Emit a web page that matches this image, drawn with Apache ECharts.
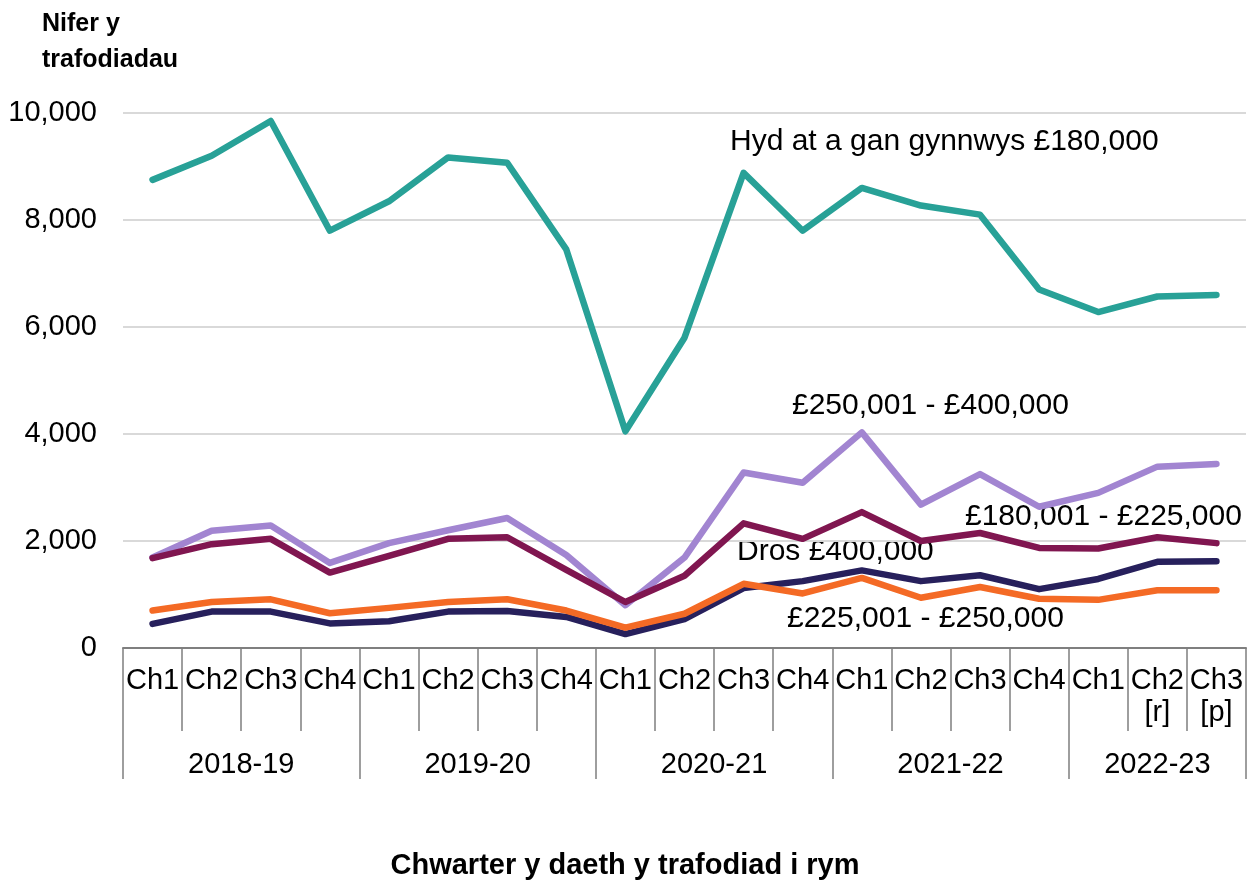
<!DOCTYPE html>
<html>
<head>
<meta charset="utf-8">
<title>Nifer y trafodiadau</title>
<script src="https://cdn.jsdelivr.net/npm/echarts@6/dist/echarts.min.js"></script>
<style>
  html, body { margin: 0; padding: 0; background: #fff; }
  #chart { width: 1250px; height: 882px; }
</style>
</head>
<body>
<div id="chart"></div>
<script>
// chwarteri (categories)
var quarters = ['Ch1','Ch2','Ch3','Ch4','Ch1','Ch2','Ch3','Ch4','Ch1','Ch2','Ch3','Ch4',
                'Ch1','Ch2','Ch3','Ch4','Ch1','Ch2\n[r]','Ch3\n[p]'];
var years = ['2018-19','2019-20','2020-21','2021-22','2022-23'];
var yearStart = [0, 4, 8, 12, 16, 19];   // where each year starts (quarter index)

// values
var upTo180k   = [8750, 9200, 9850, 7800, 8350, 9170, 9070, 7450, 4050, 5800, 8880, 7800, 8600, 8270, 8100, 6700, 6280, 6570, 6600];
var from250to400 = [1690, 2190, 2290, 1590, 1960, 2200, 2430, 1740, 800, 1690, 3280, 3090, 4030, 2680, 3250, 2640, 2900, 3390, 3440];
var from180to225 = [1680, 1940, 2040, 1410, 1720, 2040, 2070, 1460, 860, 1350, 2330, 2040, 2540, 2000, 2150, 1870, 1860, 2070, 1960];
var over400k   = [450, 680, 680, 460, 500, 680, 690, 580, 260, 540, 1120, 1250, 1450, 1250, 1360, 1100, 1290, 1610, 1620];
var from225to250 = [700, 860, 910, 650, 750, 860, 910, 700, 380, 640, 1200, 1020, 1310, 940, 1140, 920, 900, 1080, 1080];

var FONT = "'Liberation Sans', Arial, sans-serif";

var chart = echarts.init(document.getElementById('chart'));

function line(name, data, color) {
  return {
    name: name,
    type: 'line',
    xAxisIndex: 0,
    data: data,
    symbol: 'none',
    lineStyle: { width: 6.5, color: color, cap: 'round', join: 'round' },
    itemStyle: { color: color },
    animation: false
  };
}

// yearly label centres on the value axis underneath
var yearMid = [];
for (var i = 0; i < years.length; i++) {
  yearMid.push((yearStart[i] + yearStart[i + 1]) / 2);
}

var option = {
  backgroundColor: '#fff',
  textStyle: { fontFamily: FONT },
  title: [
    {
      text: 'Nifer y\ntrafodiadau',
      left: 37, top: 1,
      textStyle: { fontFamily: FONT, fontSize: 25, fontWeight: 'bold', color: '#000', lineHeight: 36 }
    },
    {
      text: 'Chwarter y daeth y trafodiad i rym',
      left: 'center', top: 846,
      textStyle: { fontFamily: FONT, fontSize: 29, fontWeight: 'bold', color: '#000' }
    }
  ],
  grid: { left: 123, right: 4, top: 113, bottom: 234, containLabel: false },
  xAxis: [
    {
      type: 'category',
      data: quarters,
      boundaryGap: true,
      position: 'bottom',
      axisLine: { show: true, lineStyle: { color: '#7f7f7f', width: 2 } },
      axisTick: { show: true, interval: 0, length: 83, lineStyle: { color: '#7f7f7f', width: 1.5 } },
      axisLabel: { interval: 0, margin: 17, fontSize: 29, color: '#000', lineHeight: 32, fontFamily: FONT },
      splitLine: { show: false }
    },
    {
      type: 'value',
      min: 0, max: 19,
      position: 'bottom',
      axisLine: { show: false },
      axisTick: { show: true, customValues: yearStart, length: 131, lineStyle: { color: '#7f7f7f', width: 1.5 } },
      axisLabel: {
        customValues: yearMid,
        margin: 102,
        fontSize: 29, color: '#000', fontFamily: FONT,
        formatter: function (v) {
          var k = yearMid.indexOf(v);
          return k >= 0 ? years[k] : '';
        }
      },
      splitLine: { show: false }
    }
  ],
  yAxis: {
    type: 'value',
    min: 0, max: 10000, interval: 2000,
    axisLine: { show: false },
    axisTick: { show: false },
    axisLabel: {
      margin: 26, fontSize: 29, color: '#000', fontFamily: FONT,
      formatter: function (v) { return v.toLocaleString('en-GB'); }
    },
    splitLine: { lineStyle: { color: '#d9d9d9', width: 2 } }
  },
  series: [
    line('Hyd at a gan gynnwys £180,000', upTo180k, '#28A197'),
    line('£250,001 - £400,000', from250to400, '#A285D1'),
    line('£180,001 - £225,000', from180to225, '#801650'),
    line('Dros £400,000', over400k, '#27205C'),
    line('£225,001 - £250,000', from225to250, '#F46A25')
  ],
  graphic: [
    { type: 'text', left: 730, top: 127, style: { text: 'Hyd at a gan gynnwys £180,000', font: '30px ' + FONT, fill: '#000' } },
    { type: 'text', left: 792, top: 391, style: { text: '£250,001 - £400,000', font: '30px ' + FONT, fill: '#000' } },
    { type: 'text', left: 965, top: 502, style: { text: '£180,001 - £225,000', font: '30px ' + FONT, fill: '#000' } },
    { type: 'text', left: 737, top: 537, style: { text: 'Dros £400,000', font: '30px ' + FONT, fill: '#000' } },
    { type: 'text', left: 787, top: 604, style: { text: '£225,001 - £250,000', font: '30px ' + FONT, fill: '#000' } }
  ]
};

chart.setOption(option);
</script>
</body>
</html>
